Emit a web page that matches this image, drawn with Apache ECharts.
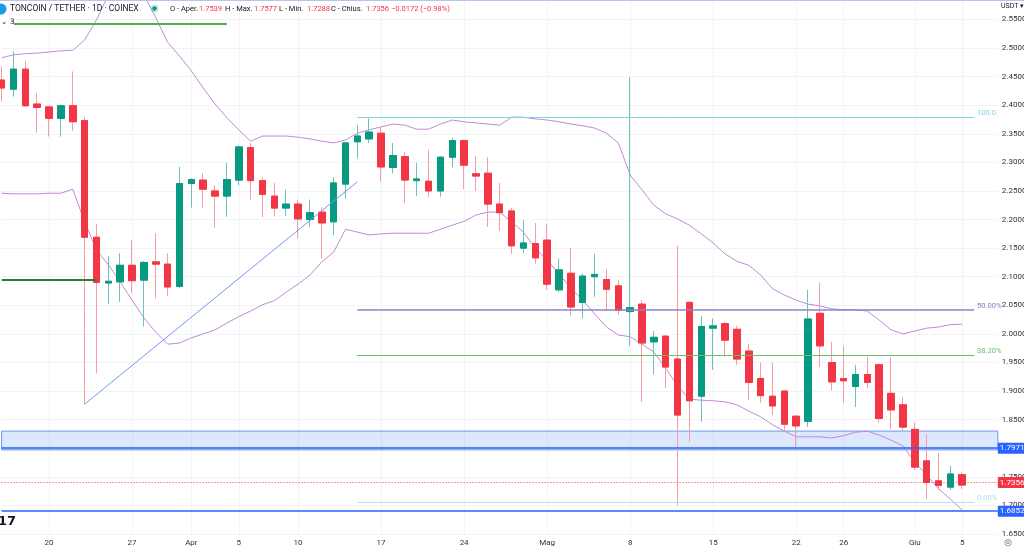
<!DOCTYPE html>
<html><head><meta charset="utf-8">
<script src="https://cdn.jsdelivr.net/npm/echarts/dist/echarts.min.js"></script>
<style>html,body{margin:0;padding:0;background:#fff}#c{width:1024px;height:549px}</style>
</head><body><div id="c"></div>
<script>
const dates = ['3/16','3/17','3/18','3/19','3/20','3/21','3/22','3/23','3/24','3/25','3/26','3/27','3/28','3/29','3/30','3/31',
'4/1','4/2','4/3','4/4','4/5','4/6','4/7','4/8','4/9','4/10','4/11','4/12','4/13','4/14','4/15','4/16','4/17','4/18','4/19','4/20','4/21','4/22','4/23','4/24','4/25','4/26','4/27','4/28','4/29','4/30',
'5/1','5/2','5/3','5/4','5/5','5/6','5/7','5/8','5/9','5/10','5/11','5/12','5/13','5/14','5/15','5/16','5/17','5/18','5/19','5/20','5/21','5/22','5/23','5/24','5/25','5/26','5/27','5/28','5/29','5/30','5/31',
'6/1','6/2','6/3','6/4','6/5','6/6','6/7','6/8'];
const tickDates = ['3/20','3/27','4/1','4/5','4/10','4/17','4/24','5/1','5/8','5/15','5/22','5/26','6/1','6/5'];
const tickLabels = ['20','27','Apr','5','10','17','24','Mag','8','15','22','26','Giu','5'];
// [open, close, low, high]
const ohlc = [
[2.444,2.430,2.406,2.468],[2.428,2.463,2.415,2.494],[2.463,2.399,2.397,2.478],[2.402,2.396,2.352,2.421],
[2.397,2.377,2.345,2.399],[2.377,2.399,2.345,2.401],[2.399,2.371,2.355,2.459],[2.373,2.169,1.877,2.379],
[2.169,2.090,1.931,2.192],[2.089,2.092,2.052,2.136],[2.091,2.120,2.056,2.141],[2.120,2.093,2.072,2.164],
[2.094,2.125,2.013,2.127],[2.126,2.122,2.062,2.176],[2.122,2.082,2.066,2.141],[2.083,2.263,2.080,2.292],
[2.263,2.270,2.221,2.272],[2.269,2.253,2.221,2.281],[2.250,2.241,2.186,2.260],[2.241,2.270,2.205,2.299],
[2.269,2.327,2.260,2.329],[2.326,2.268,2.235,2.334],[2.268,2.244,2.204,2.274],[2.241,2.220,2.205,2.264],
[2.220,2.227,2.206,2.252],[2.227,2.201,2.167,2.235],[2.200,2.212,2.187,2.235],[2.213,2.194,2.132,2.221],
[2.196,2.264,2.173,2.274],[2.262,2.334,2.237,2.336],[2.336,2.346,2.307,2.365],[2.341,2.353,2.334,2.377],
[2.351,2.292,2.266,2.361],[2.291,2.312,2.281,2.334],[2.310,2.269,2.229,2.318],[2.268,2.271,2.241,2.299],
[2.267,2.250,2.239,2.322],[2.250,2.309,2.240,2.311],[2.309,2.338,2.291,2.343],[2.338,2.295,2.253,2.340],
[2.280,2.276,2.250,2.311],[2.281,2.227,2.187,2.309],[2.227,2.212,2.180,2.264],[2.215,2.154,2.140,2.220],
[2.150,2.159,2.141,2.199],[2.158,2.133,2.123,2.194],[2.164,2.087,2.077,2.193],[2.077,2.112,2.074,2.132],
[2.106,2.047,2.031,2.151],[2.055,2.101,2.027,2.105],[2.100,2.104,2.065,2.140],[2.095,2.078,2.041,2.113],
[2.084,2.041,2.033,2.095],[2.039,2.046,1.979,2.449],[2.052,1.984,1.881,2.059],[1.986,1.994,1.929,2.005],
[1.996,1.942,1.905,1.998],[1.956,1.858,1.700,2.154],[2.055,1.883,1.811,2.057],[1.891,2.013,1.846,2.031],
[2.010,2.014,1.937,2.027],[2.018,1.989,1.960,2.021],[2.008,1.956,1.946,2.014],[1.970,1.915,1.884,1.982],
[1.922,1.892,1.880,1.950],[1.891,1.874,1.858,1.950],[1.900,1.842,1.831,1.902],[1.856,1.839,1.801,1.858],
[1.847,2.026,1.837,2.077],[2.036,1.979,1.942,2.090],[1.950,1.916,1.901,1.986],[1.922,1.918,1.879,1.979],
[1.908,1.929,1.872,1.946],[1.929,1.915,1.905,1.959],[1.946,1.852,1.845,1.948],[1.896,1.867,1.833,1.959],
[1.876,1.837,1.832,1.890],[1.833,1.767,1.762,1.845],[1.778,1.740,1.711,1.825],[1.743,1.735,1.727,1.792],
[1.732,1.755,1.727,1.769],[1.7539,1.7356,1.7288,1.7577]];
const bbUpper = [2.483,2.488,2.490,2.491,2.493,2.495,2.496,
2.514,2.549,2.593,2.610,2.616,2.593,2.553,2.510,
2.486,2.460,2.430,2.402,2.378,2.357,2.337,
2.346,2.346,2.346,2.344,2.341,2.337,2.334,
2.339,2.351,2.357,2.362,2.367,2.365,2.358,
2.358,2.367,2.374,2.371,2.369,2.367,2.365,
2.379,2.379,2.376,2.374,2.371,2.367,2.364,
2.360,2.351,2.334,2.278,2.252,2.225,2.210,
2.201,2.190,2.175,2.159,2.140,2.127,2.120,
2.103,2.079,2.068,2.059,2.052,2.049,2.044,
2.042,2.042,2.040,2.024,2.007,2.000,2.005,
2.010,2.012,2.016,2.017];
const bbLower = [2.246,2.245,2.245,2.245,2.246,2.246,2.253,
2.196,2.147,2.121,2.091,2.059,2.028,2.003,
1.982,1.984,1.993,2.000,2.007,2.019,2.030,
2.040,2.051,2.058,2.073,2.087,2.103,2.126,
2.143,2.183,2.178,2.173,2.175,2.176,2.176,
2.176,2.176,2.183,2.190,2.197,2.208,2.213,
2.213,2.196,2.178,2.150,2.129,2.105,2.080,
2.059,2.035,2.012,1.998,1.995,1.982,1.968,
1.940,1.909,1.886,1.884,1.883,1.881,1.876,
1.865,1.855,1.841,1.830,1.820,1.820,1.820,
1.818,1.822,1.828,1.830,1.823,1.814,1.804,
1.776,1.753,1.729,1.711,1.692];
const fibLevels = [2.379, 2.042, 1.963, 1.705];
const fibLabels = ['100.0', '50.00%', '38.20%', '0.00%'];
const fibColors = ['#7fd3e3', '#8c84c4', '#6dbd70', '#b3e4ee'];
const fibStart = '4/15', fibEnd = '6/6';
const trend = [['3/23', 1.877], ['4/15', 2.266]];
const greenLines = [[2.543, '3/16', '4/4'], [2.0955, '3/16', '3/24']];
const zone = [1.7971, 1.830];
const priceLevels = [1.7971, 1.7356, 1.6852];
const header = {title: 'TONCOIN / TETHER · 1D · COINEX', o: '1.7539', h: '1.7577', l: '1.7288', c: '1.7356', chg: '−0.0172 (−0.98%)'};

const FONT = 'Roboto, "Noto Sans", sans-serif';
const isTick = (i, v) => tickDates.indexOf(v) >= 0;
const UP = '#089981', DOWN = '#f23645';
const UP_WICK = '#6cc3b3', DOWN_WICK = '#f69ca5';

const fibMarks = fibLevels.map((lv, k) => ([
  {coord: [fibStart, lv], lineStyle: {color: fibColors[k], width: k === 1 ? 1.6 : 1, type: 'solid'},
   label: {show: true, position: 'end', formatter: fibLabels[k], color: fibColors[k], fontSize: 7.5, fontFamily: FONT, distance: 3, verticalAlign: 'bottom'}},
  {coord: [fibEnd, lv]}
]));
const greenMarks = greenLines.map((g, k) => ([
  {coord: [g[1], g[0]], lineStyle: {color: k === 0 ? '#4caf50' : '#2e7d32', width: 2, type: 'solid'}},
  {coord: [g[2], g[0]]}
]));
const trendMark = [[
  {coord: trend[0], lineStyle: {color: '#7496f5', width: 1, type: 'solid'}},
  {coord: trend[1]}
]];
const priceMarks = priceLevels.map((p, k) => ({
  yAxis: p,
  lineStyle: k === 1 ? {color: DOWN, width: 1, type: [1, 2]} : {color: '#2962ff', width: 1.5, type: 'solid'},
  label: {show: true, position: 'end', distance: 0, formatter: p.toFixed(4), color: '#fff',
          backgroundColor: k === 1 ? DOWN : '#2962ff', padding: [2, 2, 1, 2], fontSize: 8, fontFamily: FONT, borderRadius: 1}
}));

const bodies = ohlc.map(d => [d[0], d[1], Math.min(d[0], d[1]), Math.max(d[0], d[1])]);

const option = {
  animation: false,
  backgroundColor: '#fff',
  grid: {left: 1.6, right: 26.2, top: -9.18, bottom: 15, outerBoundsMode: 'none', containLabel: false},
  xAxis: {
    type: 'category', data: dates, boundaryGap: false,
    axisLine: {show: false}, axisTick: {show: false},
    axisLabel: {interval: isTick, formatter: v => tickLabels[tickDates.indexOf(v)], color: '#333', fontSize: 8, fontFamily: FONT, margin: 5},
    splitLine: {show: true, interval: isTick, lineStyle: {color: '#f2f3f5', width: 1}}
  },
  yAxis: {
    type: 'value', position: 'right', min: 1.65, max: 2.6, interval: 0.05, scale: true,
    axisLine: {show: false}, axisTick: {show: false},
    axisLabel: {formatter: v => v.toFixed(4), color: '#333', fontSize: 8, fontFamily: FONT, margin: 4},
    splitLine: {show: true, lineStyle: {color: '#f2f3f5', width: 1}}
  },
  series: [
    {type: 'line', data: bbUpper, showSymbol: false, symbol: 'none', lineStyle: {color: '#c08ad9', width: 1}, z: 2, silent: true},
    {type: 'line', data: bbLower, showSymbol: false, symbol: 'none', lineStyle: {color: '#c08ad9', width: 1}, z: 2, silent: true},
    {type: 'candlestick', data: ohlc, barWidth: 7, z: 3,
     itemStyle: {color: UP_WICK, color0: DOWN_WICK, borderColor: UP_WICK, borderColor0: DOWN_WICK, borderColorDoji: DOWN_WICK, borderWidth: 1},
     markArea: {silent: true, data: [[{yAxis: zone[0]}, {yAxis: zone[1]}]],
       itemStyle: {color: 'rgba(41,120,245,0.17)', borderColor: '#6f96ee', borderWidth: 1}},
     markLine: {silent: true, symbol: ['none', 'none'], animation: false,
       data: [...fibMarks, ...greenMarks, ...trendMark]}
    },
    {type: 'candlestick', data: bodies, barWidth: 7, z: 4,
     itemStyle: {color: UP, color0: DOWN, borderColor: UP, borderColor0: DOWN, borderWidth: 1},
     markLine: {silent: true, symbol: ['none', 'none'], animation: false, data: priceMarks}
    }
  ],
  graphic: [
    {type: 'line', shape: {x1: 0, y1: 0.5, x2: 1024, y2: 0.5}, style: {stroke: '#b7c5ec', lineWidth: 1}, z: 100},
    {type: 'circle', shape: {cx: 1, cy: 9, r: 5.5}, style: {fill: '#1a9be6'}, z: 100},
    {type: 'text', x: 10, y: 9, style: {text: header.title, fontSize: 8.5, fontFamily: FONT, fill: '#131722', verticalAlign: 'middle'}, z: 100},
    {type: 'circle', shape: {cx: 154.5, cy: 8.5, r: 4}, style: {fill: 'rgba(8,153,129,0.2)'}, z: 100},
    {type: 'circle', shape: {cx: 154.5, cy: 8.5, r: 2.2}, style: {fill: UP}, z: 101},
    {type: 'text', x: 170, y: 9, style: {text: 'O - Aper.', fontSize: 7.5, fontFamily: FONT, fill: '#131722', verticalAlign: 'middle'}, z: 100},
    {type: 'text', x: 199, y: 9, style: {text: header.o, fontSize: 7.5, fontFamily: FONT, fill: DOWN, verticalAlign: 'middle'}, z: 100},
    {type: 'text', x: 225, y: 9, style: {text: 'H - Max.', fontSize: 7.5, fontFamily: FONT, fill: '#131722', verticalAlign: 'middle'}, z: 100},
    {type: 'text', x: 254, y: 9, style: {text: header.h, fontSize: 7.5, fontFamily: FONT, fill: DOWN, verticalAlign: 'middle'}, z: 100},
    {type: 'text', x: 279, y: 9, style: {text: 'L - Min.', fontSize: 7.5, fontFamily: FONT, fill: '#131722', verticalAlign: 'middle'}, z: 100},
    {type: 'text', x: 307, y: 9, style: {text: header.l, fontSize: 7.5, fontFamily: FONT, fill: DOWN, verticalAlign: 'middle'}, z: 100},
    {type: 'text', x: 331, y: 9, style: {text: 'C - Chius.', fontSize: 7.5, fontFamily: FONT, fill: '#131722', verticalAlign: 'middle'}, z: 100},
    {type: 'text', x: 366, y: 9, style: {text: header.c, fontSize: 7.5, fontFamily: FONT, fill: DOWN, verticalAlign: 'middle'}, z: 100},
    {type: 'text', x: 391, y: 9, style: {text: header.chg, fontSize: 7.5, fontFamily: FONT, fill: DOWN, verticalAlign: 'middle'}, z: 100},
    {type: 'rect', shape: {x: 0, y: 17, width: 14, height: 11, r: 2}, style: {fill: '#fff'}, z: 100},
    {type: 'text', x: 1, y: 22.5, style: {text: '⌄ 3', fontSize: 7.5, fontFamily: '"DejaVu Sans", sans-serif', fill: '#131722', verticalAlign: 'middle'}, z: 101},
    {type: 'text', x: 1001, y: 6, style: {text: 'USDT ▾', fontSize: 7, fontFamily: FONT, fill: '#131722', verticalAlign: 'middle'}, z: 100},
    {type: 'text', x: 1004, y: 543, style: {text: '◎', fontSize: 9, fontFamily: '"DejaVu Sans", sans-serif', fill: '#555', verticalAlign: 'middle'}, z: 100},
    {type: 'text', x: -2, y: 522, style: {text: '17', fontSize: 13, fontWeight: 900, fontFamily: '"DejaVu Sans", sans-serif', fill: '#131722', verticalAlign: 'middle'}, z: 100}
  ]
};
const chart = echarts.init(document.getElementById('c'));
chart.setOption(option);
</script></body></html>
